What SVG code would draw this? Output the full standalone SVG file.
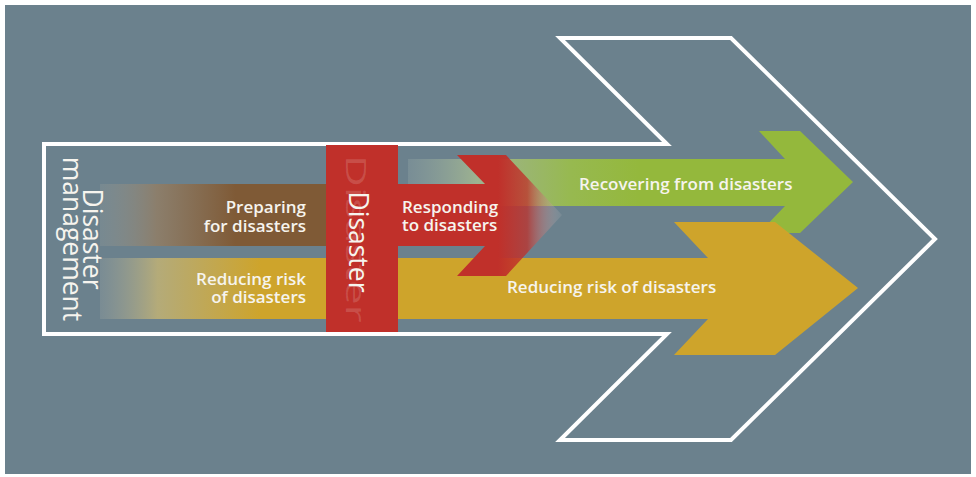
<svg xmlns="http://www.w3.org/2000/svg" width="976" height="477" viewBox="0 0 976 477">
<style>
.lbl{font-family:"Open Sans","Liberation Sans",sans-serif;font-size:17px;font-weight:600;fill:#f6f4ee}
.big{font-family:"Open Sans","Liberation Sans",sans-serif;font-size:26.5px;font-weight:400;fill:#f6f4ee}
.outline{fill:none;stroke:#ffffff;stroke-width:4;stroke-linejoin:miter}
</style>
<defs>
<linearGradient id="gBrown" gradientUnits="userSpaceOnUse" x1="100" y1="0" x2="326" y2="0">
<stop offset="0" stop-color="#8e9898" stop-opacity="0.35"/>
<stop offset="0.25" stop-color="#8f7e68" stop-opacity="0.9"/>
<stop offset="0.6" stop-color="#7f5a36"/>
<stop offset="1" stop-color="#7f5a36"/>
</linearGradient>
<linearGradient id="gYellow" gradientUnits="userSpaceOnUse" x1="100" y1="0" x2="330" y2="0">
<stop offset="0" stop-color="#95a0a0" stop-opacity="0.35"/>
<stop offset="0.25" stop-color="#b8ad78" stop-opacity="0.95"/>
<stop offset="0.7" stop-color="#cea42b"/>
<stop offset="1" stop-color="#cea42b"/>
</linearGradient>
<linearGradient id="gGreen" gradientUnits="userSpaceOnUse" x1="408" y1="0" x2="640" y2="0">
<stop offset="0" stop-color="#8da0a2" stop-opacity="0.4"/>
<stop offset="0.3" stop-color="#a0b590" stop-opacity="0.95"/>
<stop offset="0.7" stop-color="#97b950"/>
<stop offset="1" stop-color="#94b83c"/>
</linearGradient>
<linearGradient id="gRed" gradientUnits="userSpaceOnUse" x1="498" y1="0" x2="563" y2="0">
<stop offset="0" stop-color="#c0302a"/>
<stop offset="0.45" stop-color="#c0302a" stop-opacity="0.75"/>
<stop offset="1" stop-color="#c9cfd2" stop-opacity="0.1"/>
</linearGradient>
</defs>

<rect x="5" y="5" width="966" height="469" fill="#6b818d"/>

<g id="frame-arrow">
<path class="outline" d="M44,144 L667,144 L560,38 L731,38 L935,239 L731,440 L560,440 L667,334 L44,334 Z"/>
</g>

<g id="recovering">
<polygon fill="url(#gGreen)" points="408,159 785,159 759,131 800,131 853,182 800,233 759,233 785,206 408,206"/>
<text class="lbl" x="579" y="190">Recovering from disasters</text>
</g>

<g id="preparing">
<rect x="100" y="184" width="230" height="62" fill="url(#gBrown)"/>
<text class="lbl" text-anchor="end"><tspan x="306" y="213">Preparing</tspan><tspan x="306" y="232">for disasters</tspan></text>
</g>

<g id="reducing">
<polygon fill="url(#gYellow)" points="100,258 708,258 674,222 775,222 858,288 775,355 674,355 708,319 100,319"/>
<text class="lbl" text-anchor="end"><tspan x="306" y="285">Reducing risk</tspan><tspan x="306" y="303">of disasters</tspan></text>
<text class="lbl" x="507" y="293">Reducing risk of disasters</text>
</g>

<g id="responding">
<polygon fill="url(#gRed)" points="396,184 485,184 457,155 506,155 562,215 506,276 457,276 485,246 396,246"/>
<text class="lbl"><tspan x="402" y="213">Responding</tspan><tspan x="402" y="231">to disasters</tspan></text>
</g>

<g id="disaster">
<rect x="326" y="145" width="72" height="187" fill="#c0302a"/>
<text class="big" fill-opacity="0.16" transform="translate(346,155) rotate(90) scale(1.66,1.05)">Disaster</text>
<text class="big" text-anchor="middle" transform="translate(349,242) rotate(90)">Disaster</text>
</g>

<g id="disaster-management">
<text class="big" text-anchor="middle" transform="translate(83,239) rotate(90)">Disaster</text>
<text class="big" text-anchor="middle" transform="translate(63,239) rotate(90)">management</text>
</g>
</svg>
